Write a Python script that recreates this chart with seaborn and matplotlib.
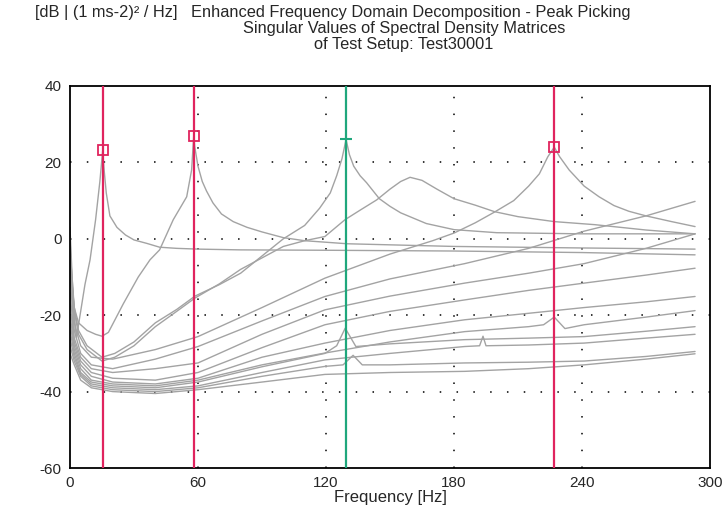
import numpy as np
import pandas as pd
import matplotlib
matplotlib.use("Agg")
import matplotlib.pyplot as plt
import seaborn as sns

# ── singular value curves (Hz, dB) ──
SV_A_HZ = [0, 1, 2, 3, 5, 7, 9.4, 12, 14, 15.3, 16, 17, 18.7, 22, 26, 30, 36, 42, 50, 60, 80, 120, 180, 240, 293]
SV_A_DB = [3, -10, -20, -26, -19, -12, -5.5, 5, 15, 23, 18, 12, 6, 3, 1, -0.3, -1.2, -2.2, -2.5, -2.7, -2.9, -3.0, -3.2, -3.6, -4.2]

SV_B_HZ = [0, 1, 2, 4, 8, 12, 15, 18, 25, 32, 37.5, 42, 48.4, 54.7, 57, 58, 58.5, 60, 62, 64, 67, 71, 76.5, 83, 90, 100,
           110, 130, 180, 240, 293]
SV_B_DB = [0, -12, -18, -22, -24, -25, -25.5, -24.5, -17, -10, -5.5, -2.9, 5, 11, 18, 27, 24, 19, 15, 12.5, 9.4, 6.5,
           4.5, 3.0, 1.8, 0.3, -0.5, -1.3, -2.0, -2.4, -2.7]

SV_C_HZ = [0, 2, 4, 8, 15, 21, 30, 40, 50, 58.6, 70, 80, 90, 100, 110, 117, 122, 125, 127.5, 129.4, 131, 133, 136, 139,
           145, 150, 155, 167, 180, 200, 240, 293]
SV_C_DB = [-3, -18, -24, -28, -31, -30, -27, -22, -18.5, -15, -12, -9, -4.5, 0, 3.5, 8, 12, 16.5, 21, 26, 22, 19, 16.5,
           14.7, 10.5, 8.5, 6.8, 4, 2.4, 1.6, 1.3, 1.3]

SV_D_HZ = [0, 2, 4, 8, 15, 21, 30, 40, 50, 58.6, 70, 80, 90, 100, 110, 119.5, 128.9, 136, 143.8, 150, 155, 159.4, 165,
           172, 180, 190, 199, 210, 227, 246, 270, 293]
SV_D_DB = [-5, -19, -25, -29, -32, -31, -28, -23, -19, -15.5, -11.8, -8, -5, -2, -0.5, 0.6, 5, 7.5, 10.2, 13, 15, 16.1,
           15.3, 13, 10.5, 8.8, 7.1, 5.8, 4.5, 3.7, 2.3, 1.3]

SV_E_HZ = [0, 2, 5, 10, 20, 40, 60, 90, 119.5, 150, 170, 180, 190, 199, 208, 215, 220, 224, 227, 229.5, 234, 241, 248,
           255, 262, 270, 282, 293]
SV_E_DB = [-7, -22, -28, -31, -31.5, -29, -25.6, -18, -10.3, -4, -0.5, 1.5, 4.2, 7, 10, 13.8, 17, 21.5, 24, 21.5, 18,
           13.8, 11, 8.7, 7.2, 6, 4.5, 3.2]

SV_F_HZ = [0, 2, 5, 10, 20, 40, 60, 90, 119.5, 150, 185, 215, 241, 270, 293]
SV_F_DB = [-10, -24, -30, -33, -34, -31.5, -28.2, -21.5, -15.1, -10.5, -6.5, -2.5, 2, 6, 9.8]

SV_H_HZ = [0, 2, 5, 10, 20, 40, 60, 90, 119.5, 150, 185, 215, 241, 270, 293]
SV_H_DB = [-14, -26, -31, -34, -35, -34, -32.5, -25, -18.6, -15, -11.6, -9, -6.5, -2.5, 1.3]

SV_I_HZ = [0, 2, 5, 10, 20, 40, 60, 90, 119.5, 150, 185, 215, 241, 270, 293]
SV_I_DB = [-17, -27, -32, -35, -36.5, -37, -35, -28.5, -22.5, -19, -16, -13.5, -11.6, -9.5, -7.7]

SV_J_HZ = [0, 2, 5, 10, 20, 40, 60, 90, 119.5, 150, 185, 215, 241, 270, 293]
SV_J_DB = [-20, -28, -33, -36, -37.5, -38, -36.5, -31, -27.3, -24, -21.2, -19.5, -18, -16.5, -15.1]

SV_K_HZ = [0, 2, 5, 10, 20, 40, 60, 90, 119.5, 150, 185, 215, 222, 227, 232, 241, 270, 293]
SV_K_DB = [-22, -29, -34, -37, -38, -38.5, -37, -33, -29.9, -27, -24.3, -23, -22.5, -20.5, -23.5, -22.5, -20.5, -18.8]

SV_L_HZ = [0, 2, 5, 10, 20, 40, 60, 90, 119.5, 125, 129, 134, 150, 185, 215, 241, 270, 293]
SV_L_DB = [-24, -30, -35, -37.5, -38.5, -39, -37.5, -33.5, -30, -28, -23.4, -28.2, -27.5, -26.4, -26, -25.6, -24.2, -23]

SV_M_HZ = [0, 2, 5, 10, 20, 40, 60, 90, 119.5, 150, 185, 192, 193.6, 195, 215, 241, 270, 293]
SV_M_DB = [-26, -31, -35.5, -38, -39, -39.5, -38.5, -35, -31.7, -30, -28.2, -28, -25.5, -28, -27.8, -27.3, -26, -25]

SV_N_HZ = [0, 2, 5, 10, 20, 40, 60, 90, 119.5, 128, 132.7, 137, 150, 185, 215, 241, 270, 293]
SV_N_DB = [-28, -32, -36, -38.5, -39.5, -40, -39, -36, -33.4, -33, -30.5, -33, -33, -32.5, -32.3, -32, -30.8, -29.5]

SV_O_HZ = [0, 2, 5, 10, 20, 40, 60, 90, 119.5, 150, 185, 215, 241, 270, 293]
SV_O_DB = [-30, -33, -37, -39, -40, -40.5, -39.5, -37.5, -35.5, -35, -34.7, -34, -33, -31.5, -30.1]

CURVES = {
    "A": (SV_A_HZ, SV_A_DB), "B": (SV_B_HZ, SV_B_DB), "C": (SV_C_HZ, SV_C_DB),
    "D": (SV_D_HZ, SV_D_DB), "E": (SV_E_HZ, SV_E_DB), "F": (SV_F_HZ, SV_F_DB),
    "H": (SV_H_HZ, SV_H_DB), "I": (SV_I_HZ, SV_I_DB), "J": (SV_J_HZ, SV_J_DB),
    "K": (SV_K_HZ, SV_K_DB), "L": (SV_L_HZ, SV_L_DB), "M": (SV_M_HZ, SV_M_DB),
    "N": (SV_N_HZ, SV_N_DB), "O": (SV_O_HZ, SV_O_DB),
}

# picked peaks
PEAK_HZ = [15.3, 58.0, 227.0]
PEAK_DB = [23.3, 27.0, 24.0]
ACTIVE_HZ = [129.4]
ACTIVE_DB = [26.0]

X_TICKS = [0, 60, 120, 180, 240, 300]
Y_TICKS = [-60, -40, -20, 0, 20, 40]

GRAY = "#a3a3a3"
RED = "#e0245e"
GREEN = "#1fa77c"

sns.set_theme(style="white")
plt.rcParams["font.family"] = ["Liberation Sans", "DejaVu Sans"]
plt.rcParams["axes.unicode_minus"] = False

rows = []
for name, (hz, db) in CURVES.items():
    for f, v in zip(hz, db):
        rows.append({"curve": name, "freq": f, "db": v})
df = pd.DataFrame(rows)

fig = plt.figure(figsize=(7.26, 5.09), dpi=100)
ax = fig.add_axes([70 / 726, 41 / 509, 640 / 726, 382 / 509])

# dotted grid
for xv in X_TICKS[1:-1]:
    ax.axvline(xv, color="black", lw=1.1, ls=(0, (1, 10)), zorder=1)
for yv in Y_TICKS[1:-1]:
    ax.axhline(yv, color="black", lw=1.1, ls=(0, (1, 10)), zorder=1)

sns.lineplot(data=df, x="freq", y="db", units="curve", estimator=None, sort=False,
             color=GRAY, lw=1.0, ax=ax, zorder=2)

for f in PEAK_HZ:
    ax.axvline(f, color=RED, lw=1.6, zorder=3)
for f in ACTIVE_HZ:
    ax.axvline(f, color=GREEN, lw=1.6, zorder=3)

ax.plot(PEAK_HZ, PEAK_DB, ls="none", marker="s", ms=7.5, mfc="none", mec=RED, mew=1.3, zorder=4)
ax.plot(ACTIVE_HZ, ACTIVE_DB, ls="none", marker="_", ms=9, mec=GREEN, mew=1.5, zorder=4)

ax.set_xlim(0, 300)
ax.set_ylim(-60, 40)
ax.set_xticks(X_TICKS)
ax.set_yticks(Y_TICKS)
ax.tick_params(labelsize=11, length=0, pad=6)
ax.set_xlabel("Frequency [Hz]", fontsize=12, labelpad=0)
ax.set_ylabel("")
for s in ax.spines.values():
    s.set_color("black")
    s.set_linewidth(1.3)

fig.text(35 / 726, 1 - 12 / 509, "[dB | (1 ms-2)\u00b2 / Hz]   Enhanced Frequency Domain Decomposition - Peak Picking",
         fontsize=11.8, va="center", ha="left")
fig.text(404 / 726, 1 - 29 / 509, "Singular Values of Spectral Density Matrices", fontsize=11.8, va="center", ha="center")
fig.text(404 / 726, 1 - 45 / 509, "of Test Setup: Test30001", fontsize=11.8, va="center", ha="center")

fig.savefig("out.png", dpi=100)
